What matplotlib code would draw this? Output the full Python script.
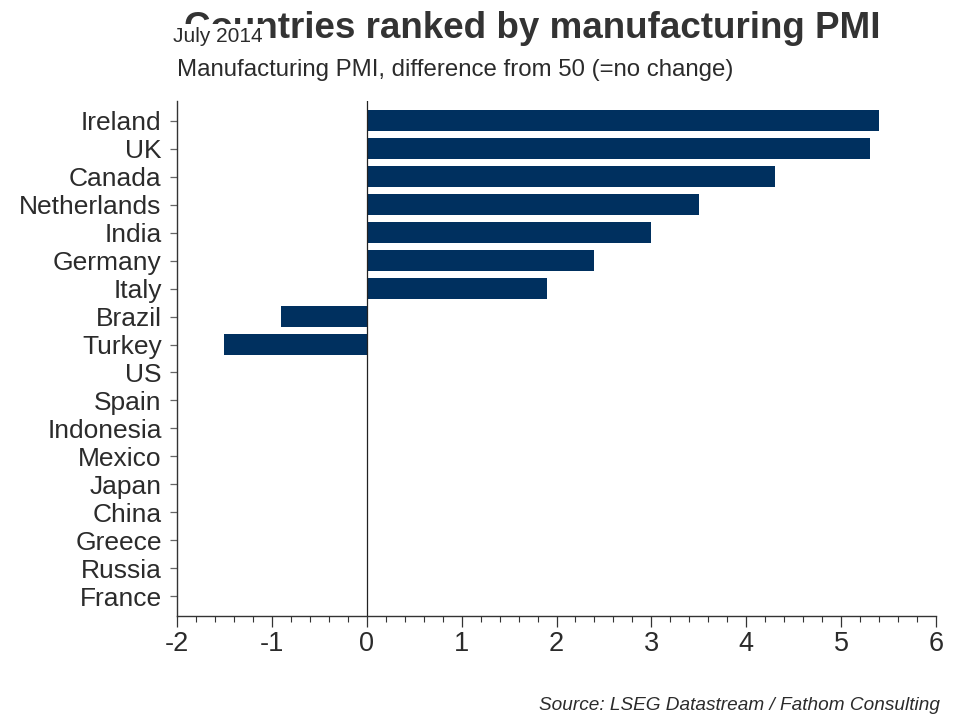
import matplotlib
matplotlib.use("Agg")
import matplotlib.pyplot as plt
from matplotlib.ticker import MultipleLocator

countries = ["Ireland", "UK", "Canada", "Netherlands", "India", "Germany", "Italy",
             "Brazil", "Turkey", "US", "Spain", "Indonesia", "Mexico", "Japan",
             "China", "Greece", "Russia", "France"]
pmi_diff = [5.4, 5.3, 4.3, 3.5, 3.0, 2.4, 1.9, -0.9, -1.5,
            0, 0, 0, 0, 0, 0, 0, 0, 0]
x_ticks = [-2, -1, 0, 1, 2, 3, 4, 5, 6]

title = "Countries ranked by manufacturing PMI"
date_label = "July 2014"
subtitle = "Manufacturing PMI, difference from 50 (=no change)"
source = "Source: LSEG Datastream / Fathom Consulting"

plt.rcParams["font.family"] = ["Liberation Sans", "DejaVu Sans"]
TXT = "#2b2b2b"
BAR = "#00305F"

fig = plt.figure(figsize=(9.6, 7.2), dpi=100)
ax = fig.add_axes([177/960, 1 - 616/720, (936-177)/960, (616-101)/720])

ypos = list(range(len(countries)))
ax.barh(ypos, pmi_diff, height=0.75, color=BAR, zorder=2)
ax.axvline(0, color="#222222", lw=0.9, zorder=3)

ax.set_ylim(len(countries) - 0.3, -0.7)
ax.set_xlim(-2, 6)
ax.set_yticks(ypos)
ax.set_yticklabels(countries)
ax.set_xticks(x_ticks)
ax.set_xticklabels([str(v) for v in x_ticks])
ax.xaxis.set_minor_locator(MultipleLocator(0.2))

for s in ["top", "right"]:
    ax.spines[s].set_visible(False)
for s in ["left", "bottom"]:
    ax.spines[s].set_color("#333333")
    ax.spines[s].set_linewidth(1.0)

ax.tick_params(axis="y", direction="out", length=5, width=0.9, color="#666666",
               labelsize=19, labelcolor=TXT, pad=6)
ax.tick_params(axis="x", which="major", direction="out", length=8, width=0.9,
               color="#333333", labelsize=19.5, labelcolor=TXT, pad=3)
ax.tick_params(axis="x", which="minor", direction="out", length=4.5, width=0.8,
               color="#333333")

fig.text(880/960, 1 - 28/720, title, ha="right", va="center", fontsize=26.5,
         fontweight="bold", color="#333333")
fig.text(173/960, 1 - 36/720, date_label, ha="left", va="center", fontsize=15,
         color=TXT, bbox=dict(facecolor="white", edgecolor="none", pad=1.5))
fig.text(177/960, 1 - 70/720, subtitle, ha="left", va="center", fontsize=17.3,
         color=TXT)
fig.text(940/960, 1 - 705/720, source, ha="right", va="center", fontsize=13.7,
         style="italic", color=TXT)

fig.savefig("out.png", dpi=100)
